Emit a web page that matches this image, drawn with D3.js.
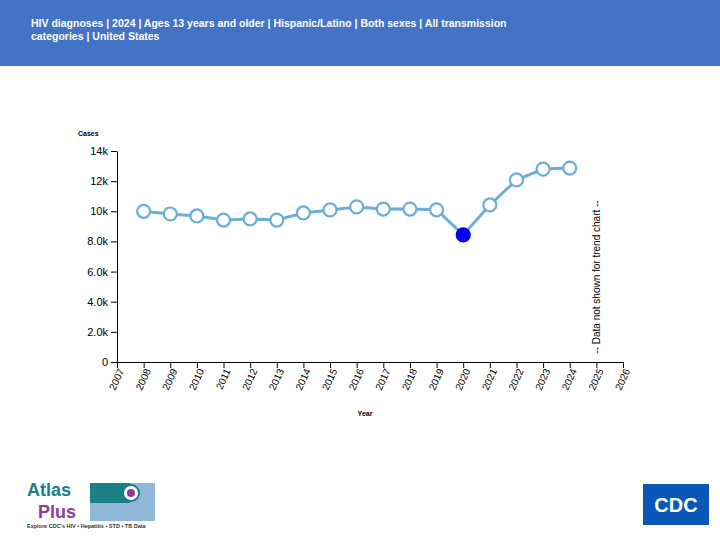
<!DOCTYPE html>
<html><head><meta charset="utf-8">
<script src="https://cdn.jsdelivr.net/npm/d3@7"></script>
<style>body{margin:0;font-family:Helvetica,Arial,"Liberation Sans",sans-serif}</style>
</head><body>
<svg id="c" width="720" height="540"></svg>
<script>
const years=[2008,2009,2010,2011,2012,2013,2014,2015,2016,2017,2018,2019,2020,2021,2022,2023,2024];
const cases=[10000,9820,9690,9420,9490,9420,9890,10090,10290,10150,10150,10100,8430,10420,12080,12800,12870];
const yTicks=[0,2000,4000,6000,8000,10000,12000,14000];
const tickLabels=["0","2.0k","4.0k","6.0k","8.0k","10k","12k","14k"];
const xTicks=d3.range(2007,2027);
const svg=d3.select("#c");
svg.append("rect").attr("width",720).attr("height",66).attr("fill","#4472C4");
svg.append("text").attr("x",31).attr("y",27).attr("fill","#fff").attr("font-size",10.5).attr("font-weight","bold").text("HIV diagnoses | 2024 | Ages 13 years and older | Hispanic/Latino | Both sexes | All transmission");
svg.append("text").attr("x",31).attr("y",40).attr("fill","#fff").attr("font-size",10.5).attr("font-weight","bold").text("categories | United States");
const x=d3.scaleLinear().domain([2007,2026]).range([117,623]);
const y=d3.scaleLinear().domain([0,14000]).range([362,151]);
const ya=svg.append("g").attr("transform","translate(117,0)").call(d3.axisLeft(y).tickValues(yTicks).tickFormat((d,i)=>tickLabels[i]).tickSizeOuter(0));
ya.selectAll("text").attr("font-size",11).attr("font-family","Helvetica,Arial,sans-serif").attr("fill","#000");
const xa=svg.append("g").attr("transform","translate(0,362)").call(d3.axisBottom(x).tickValues(xTicks).tickFormat(d3.format("d")).tickSizeOuter(0));
xa.selectAll("text").attr("font-size",10).attr("font-family","Helvetica,Arial,sans-serif").attr("fill","#000")
 .attr("transform","rotate(-65)").attr("text-anchor","end").attr("dx","-0.5em").attr("dy","0.1em");
svg.append("text").attr("x",78).attr("y",136).attr("font-size",7).attr("font-weight","bold").text("Cases");
svg.append("text").attr("x",365).attr("y",416).attr("font-size",7).attr("font-weight","bold").attr("text-anchor","middle").text("Year");
svg.append("path").datum(years.map((d,i)=>[d,cases[i]])).attr("fill","none").attr("stroke","#6baed6").attr("stroke-width",3)
 .attr("d",d3.line().x(d=>x(d[0])).y(d=>y(d[1])));
svg.selectAll("circle.p").data(years.map((d,i)=>[d,cases[i]])).join("circle")
 .attr("cx",d=>x(d[0])).attr("cy",d=>y(d[1])).attr("r",6.5)
 .attr("fill",d=>d[0]===2020?"#0000ee":"#fff").attr("stroke",d=>d[0]===2020?"#0000ee":"#6baed6").attr("stroke-width",2.2);
svg.append("text").attr("transform",`translate(${x(2025)+4},277) rotate(-90)`).attr("text-anchor","middle").attr("font-size",10).text("-- Data not shown for trend chart --");
// logos
const g=svg.append("g");
g.append("text").attr("x",27).attr("y",496).attr("font-size",18).attr("fill","#1a7f86").attr("font-weight","bold").text("Atlas");
g.append("text").attr("x",38).attr("y",518).attr("font-size",18).attr("fill","#8e3a96").attr("font-weight","bold").text("Plus");
g.append("rect").attr("x",90).attr("y",483).attr("width",65).attr("height",38).attr("fill","#8fb8d8");
g.append("rect").attr("x",90).attr("y",483).attr("width",40).attr("height",20).attr("fill","#1a7f86");
g.append("circle").attr("cx",131).attr("cy",493).attr("r",8).attr("fill","#fff").attr("stroke","#1a7f86").attr("stroke-width",2);
g.append("circle").attr("cx",131).attr("cy",493).attr("r",4).attr("fill","#8e3a96");
g.append("text").attr("x",27).attr("y",528).attr("font-size",5.5).attr("fill","#333").attr("font-weight","bold").text("Explore CDC's HIV • Hepatitis • STD • TB Data");
g.append("rect").attr("x",643).attr("y",484).attr("width",66).attr("height",41).attr("fill","#0a57b8");
g.append("text").attr("x",676).attr("y",512).attr("font-size",20).attr("fill","#fff").attr("font-weight","bold").attr("text-anchor","middle").text("CDC");
</script></body></html>
